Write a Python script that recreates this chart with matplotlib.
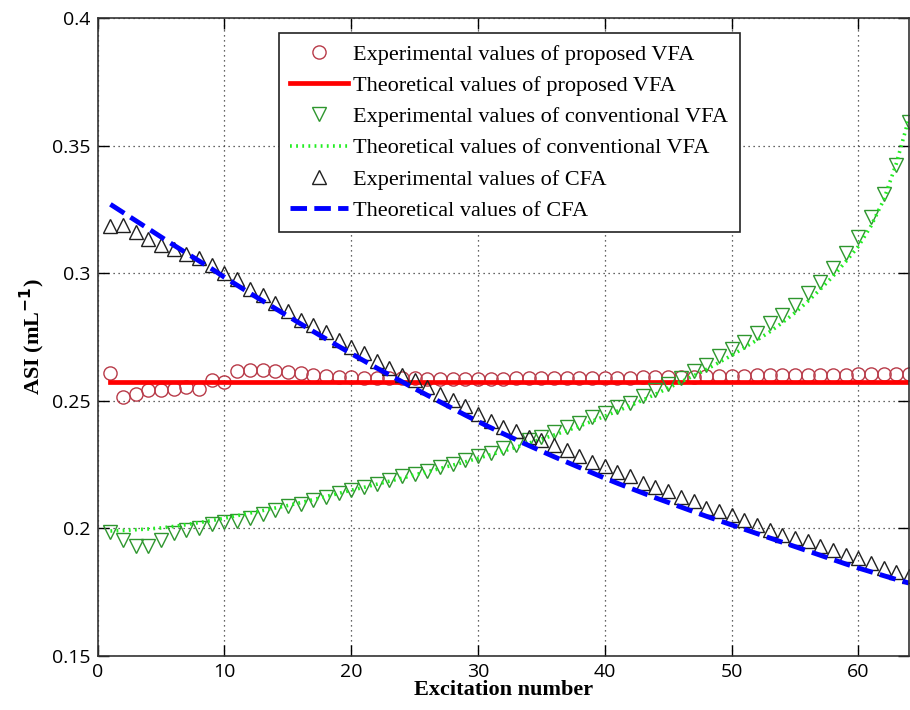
import matplotlib
matplotlib.use("Agg")
import matplotlib.pyplot as plt
import numpy as np

# excitation number 1..64
n = np.arange(1, 65)

# proposed VFA
prop_exp = [0.2611, 0.2514, 0.2527, 0.2543, 0.2543, 0.2546, 0.2554, 0.2546, 0.2580, 0.2572,
            0.2617, 0.2621, 0.2621, 0.2617, 0.2613, 0.2608, 0.2603, 0.2598, 0.2595, 0.2593,
            0.2591, 0.2590, 0.2589, 0.2588, 0.2588, 0.2587, 0.2587, 0.2587, 0.2587, 0.2587,
            0.2587, 0.2587, 0.2588, 0.2588, 0.2588, 0.2589, 0.2589, 0.2589, 0.2590, 0.2590,
            0.2591, 0.2591, 0.2592, 0.2592, 0.2593, 0.2594, 0.2595, 0.2596, 0.2597, 0.2598,
            0.2599, 0.2600, 0.2600, 0.2601, 0.2601, 0.2602, 0.2602, 0.2603, 0.2603, 0.2604,
            0.2604, 0.2605, 0.2605, 0.2606]
prop_theo = [0.2573] * 64

# conventional VFA
conv_exp = [0.1988, 0.1955, 0.1932, 0.1932, 0.1953, 0.1984, 0.1992, 0.2002, 0.2016, 0.2024,
            0.2029, 0.2039, 0.2058, 0.2074, 0.2086, 0.2097, 0.2110, 0.2125, 0.2139, 0.2152,
            0.2164, 0.2175, 0.2191, 0.2204, 0.2214, 0.2227, 0.2240, 0.2253, 0.2269, 0.2282,
            0.2295, 0.2315, 0.2328, 0.2345, 0.2360, 0.2377, 0.2399, 0.2415, 0.2436, 0.2454,
            0.2475, 0.2493, 0.2517, 0.2543, 0.2567, 0.2589, 0.2615, 0.2642, 0.2675, 0.2702,
            0.2732, 0.2765, 0.2804, 0.2837, 0.2876, 0.2922, 0.2967, 0.3020, 0.3078, 0.3141,
            0.3219, 0.3311, 0.3424, 0.3594]
conv_theo = [0.1990, 0.1992, 0.1995, 0.1998, 0.2002, 0.2008, 0.2015, 0.2023, 0.2031, 0.2040,
             0.2050, 0.2060, 0.2070, 0.2080, 0.2090, 0.2101, 0.2113, 0.2125, 0.2137, 0.2150,
             0.2161, 0.2173, 0.2185, 0.2197, 0.2210, 0.2222, 0.2235, 0.2248, 0.2261, 0.2275,
             0.2289, 0.2303, 0.2318, 0.2334, 0.2350, 0.2366, 0.2383, 0.2401, 0.2420, 0.2440,
             0.2460, 0.2481, 0.2503, 0.2526, 0.2550, 0.2574, 0.2598, 0.2623, 0.2650, 0.2678,
             0.2708, 0.2738, 0.2770, 0.2806, 0.2845, 0.2889, 0.2937, 0.2988, 0.3045, 0.3105,
             0.3185, 0.3287, 0.3430, 0.3608]

# CFA
cfa_exp = [0.3185, 0.3189, 0.3162, 0.3133, 0.3111, 0.3094, 0.3076, 0.3059, 0.3034, 0.3002,
           0.2976, 0.2937, 0.2914, 0.2883, 0.2852, 0.2817, 0.2798, 0.2771, 0.2739, 0.2710,
           0.2687, 0.2658, 0.2628, 0.2602, 0.2582, 0.2556, 0.2527, 0.2504, 0.2478, 0.2448,
           0.2422, 0.2399, 0.2380, 0.2360, 0.2347, 0.2328, 0.2308, 0.2282, 0.2262, 0.2243,
           0.2223, 0.2204, 0.2180, 0.2164, 0.2145, 0.2125, 0.2106, 0.2080, 0.2067, 0.2054,
           0.2034, 0.2014, 0.1995, 0.1975, 0.1962, 0.1949, 0.1932, 0.1917, 0.1897, 0.1884,
           0.1865, 0.1845, 0.1830, 0.1815]
cfa_theo = [0.3270, 0.3238, 0.3206, 0.3174, 0.3142, 0.3110, 0.3079, 0.3048, 0.3017, 0.2984,
            0.2953, 0.2922, 0.2892, 0.2862, 0.2832, 0.2802, 0.2772, 0.2743, 0.2714, 0.2685,
            0.2657, 0.2629, 0.2602, 0.2575, 0.2548, 0.2522, 0.2496, 0.2470, 0.2444, 0.2419,
            0.2395, 0.2371, 0.2348, 0.2325, 0.2303, 0.2281, 0.2260, 0.2239, 0.2218, 0.2197,
            0.2177, 0.2158, 0.2139, 0.2120, 0.2102, 0.2084, 0.2066, 0.2048, 0.2031, 0.2014,
            0.1997, 0.1980, 0.1963, 0.1946, 0.1929, 0.1912, 0.1895, 0.1878, 0.1861, 0.1845,
            0.1830, 0.1815, 0.1800, 0.1786]

serif = ['Liberation Serif', 'DejaVu Serif']

fig = plt.figure(figsize=(9.1, 7.1), dpi=100)
ax = fig.add_axes([0.1074, 0.076, 0.8915, 0.8986])

ax.plot(n, prop_exp, 'o', ms=9.5, mfc='none', mec='#b83a48', mew=1.0,
        label='Experimental values of proposed VFA')
ax.plot(n, prop_theo, '-', color='#ff0000', lw=3.4,
        label='Theoretical values of proposed VFA')
ax.plot(n, conv_exp, 'v', ms=9.5, mfc='none', mec='#2e962e', mew=1.0,
        label='Experimental values of conventional VFA')
ax.plot(n, conv_theo, color='#22ee22', lw=2.6, linestyle=(0, (0.5, 1.2)),
        label='Theoretical values of conventional VFA')
ax.plot(n, cfa_exp, '^', ms=9.5, mfc='none', mec='#202020', mew=1.0,
        label='Experimental values of CFA')
ax.plot(n, cfa_theo, color='#0000ff', lw=3.5, linestyle=(0, (3.4, 1.5)),
        label='Theoretical values of CFA')

ax.set_xlim(0, 64)
ax.set_ylim(0.15, 0.4)
ax.set_xticks([0, 10, 20, 30, 40, 50, 60])
ax.set_yticks([0.15, 0.2, 0.25, 0.3, 0.35, 0.4])
ax.set_yticklabels(['0.15', '0.2', '0.25', '0.3', '0.35', '0.4'])
ax.tick_params(direction='in', length=8, width=1, top=True, right=True,
               labelsize=14, pad=5)
for lab in ax.get_xticklabels() + ax.get_yticklabels():
    lab.set_family(['Open Sans', 'DejaVu Sans'])
for sp in ax.spines.values():
    sp.set_linewidth(1.2)
    sp.set_color('#333333')

ax.grid(True, color='#333333', linestyle=(0, (1, 3)), linewidth=0.9)

ax.set_xlabel('Excitation number', family=serif, fontweight='bold', fontsize=16,
              labelpad=-1)
ax.set_ylabel('ASI (mL$^{\\mathbf{-1}}$)', family=serif, fontweight='bold', fontsize=16,
              labelpad=4)

leg = ax.legend(loc='upper left', bbox_to_anchor=(0.2235, 0.9765), borderaxespad=0,
                prop={'family': serif, 'size': 16}, fancybox=False, framealpha=1,
                edgecolor='#222222', handlelength=2.6, handletextpad=0.25,
                labelspacing=0.48, borderpad=0.5)
leg.get_frame().set_linewidth(1.2)

fig.savefig('out.png', dpi=100)
